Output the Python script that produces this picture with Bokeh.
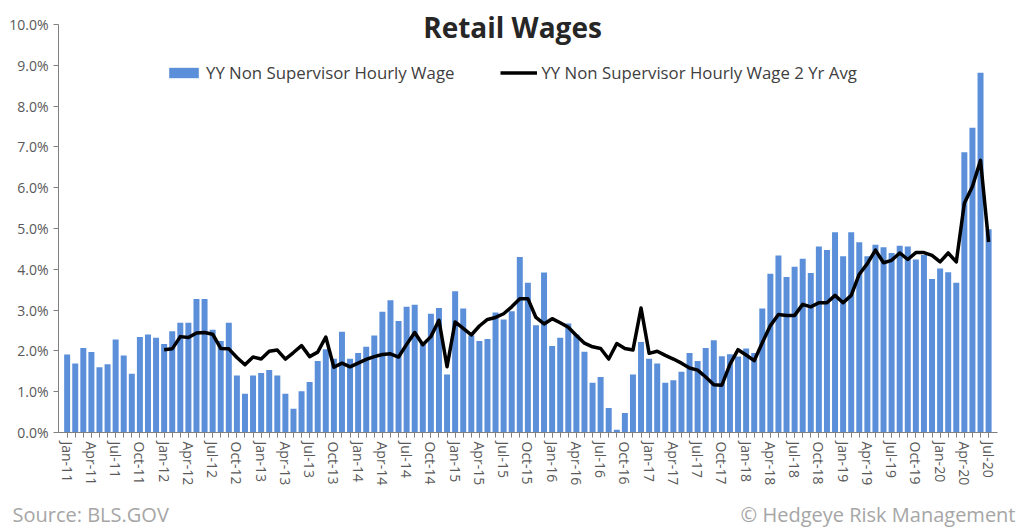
from bokeh.plotting import figure
from bokeh.layouts import column, row
from bokeh.models import (ColumnDataSource, FixedTicker, PrintfTickFormatter, Legend,
                          LegendItem, Label, Range1d)
from bokeh.embed import file_html
from bokeh.resources import INLINE

# YY Non Supervisor Hourly Wage (%), monthly Jan-11 .. Jul-20
wage_2011 = [1.91, 1.69, 2.07, 1.97, 1.60, 1.67, 2.28, 1.89, 1.44, 2.34, 2.40, 2.32]
wage_2012 = [2.17, 2.48, 2.69, 2.69, 3.27, 3.27, 2.52, 2.24, 2.69, 1.40, 0.95, 1.40]
wage_2013 = [1.46, 1.53, 1.40, 0.95, 0.58, 1.01, 1.24, 1.75, 2.04, 1.81, 2.47, 1.81]
wage_2014 = [1.95, 2.10, 2.38, 2.96, 3.24, 2.73, 3.08, 3.13, 2.18, 2.91, 3.05, 1.42]
wage_2015 = [3.46, 3.04, 2.38, 2.24, 2.29, 2.94, 2.77, 2.97, 4.30, 3.67, 2.63, 3.92]
wage_2016 = [2.12, 2.32, 2.67, 2.40, 1.98, 1.22, 1.36, 0.60, 0.07, 0.48, 1.42, 2.22]
wage_2017 = [1.81, 1.69, 1.22, 1.28, 1.49, 1.95, 1.75, 2.07, 2.26, 1.87, 1.92, 1.86]
wage_2018 = [2.06, 1.95, 3.04, 3.89, 4.34, 3.81, 4.06, 4.26, 3.91, 4.56, 4.47, 4.91]
wage_2019 = [4.32, 4.91, 4.66, 4.32, 4.60, 4.54, 4.40, 4.58, 4.56, 4.24, 4.35, 3.76]
wage_2020 = [4.02, 3.93, 3.67, 6.87, 7.47, 8.82, 4.98]

# YY Non Supervisor Hourly Wage 2 Yr Avg (%), monthly Jan-12 .. Jul-20
avg_2012 = [2.03, 2.05, 2.35, 2.33, 2.44, 2.45, 2.41, 2.06, 2.05, 1.84, 1.66, 1.85]
avg_2013 = [1.80, 1.99, 2.02, 1.80, 1.96, 2.13, 1.86, 1.97, 2.34, 1.60, 1.70, 1.61]
avg_2014 = [1.70, 1.79, 1.86, 1.91, 1.93, 1.85, 2.16, 2.45, 2.15, 2.35, 2.75, 1.61]
avg_2015 = [2.71, 2.55, 2.39, 2.61, 2.77, 2.82, 2.91, 3.08, 3.28, 3.28, 2.82, 2.66]
avg_2016 = [2.79, 2.69, 2.58, 2.38, 2.19, 2.10, 2.06, 1.80, 2.18, 2.06, 2.02, 3.05]
avg_2017 = [1.94, 1.99, 1.89, 1.80, 1.70, 1.58, 1.53, 1.36, 1.17, 1.16, 1.67, 2.03]
avg_2018 = [1.90, 1.76, 2.20, 2.62, 2.89, 2.87, 2.87, 3.14, 3.08, 3.18, 3.18, 3.36]
avg_2019 = [3.18, 3.36, 3.88, 4.14, 4.47, 4.16, 4.22, 4.40, 4.24, 4.41, 4.41, 4.34]
avg_2020 = [4.18, 4.40, 4.18, 5.62, 6.03, 6.67, 4.67]

tick_labels = ["Jan-11", "Apr-11", "Jul-11", "Oct-11", "Jan-12", "Apr-12", "Jul-12", "Oct-12",
               "Jan-13", "Apr-13", "Jul-13", "Oct-13", "Jan-14", "Apr-14", "Jul-14", "Oct-14",
               "Jan-15", "Apr-15", "Jul-15", "Oct-15", "Jan-16", "Apr-16", "Jul-16", "Oct-16",
               "Jan-17", "Apr-17", "Jul-17", "Oct-17", "Jan-18", "Apr-18", "Jul-18", "Oct-18",
               "Jan-19", "Apr-19", "Jul-19", "Oct-19", "Jan-20", "Apr-20", "Jul-20"]
y_ticks = [0, 1, 2, 3, 4, 5, 6, 7, 8, 9, 10]

wage = (wage_2011 + wage_2012 + wage_2013 + wage_2014 + wage_2015 + wage_2016 +
        wage_2017 + wage_2018 + wage_2019 + wage_2020)
avg = (avg_2012 + avg_2013 + avg_2014 + avg_2015 + avg_2016 + avg_2017 + avg_2018 +
       avg_2019 + avg_2020)

idx = list(range(len(wage)))
avg_idx = list(range(12, 12 + len(avg)))

bar_src = ColumnDataSource(dict(x=idx, top=wage))
line_src = ColumnDataSource(dict(x=avg_idx, y=avg))

FONT = "Open Sans"

p = figure(width=1016, height=496, output_backend="svg", toolbar_location=None,
           x_range=Range1d(-1.07, 115.1), y_range=Range1d(0, 10.49),
           min_border_left=58, min_border_right=19, min_border_top=4, min_border_bottom=64)
p.outline_line_color = None
p.xgrid.visible = False
p.ygrid.visible = False
p.background_fill_color = "white"

bars = p.vbar(x="x", top="top", width=0.74, source=bar_src, fill_color="#5B8FDA",
              line_color=None)
line = p.line(x="x", y="y", source=line_src, line_color="black", line_width=3.5,
              line_join="round")

# Y axis
p.yaxis.ticker = FixedTicker(ticks=y_ticks)
p.yaxis.bounds = (0, 10)
p.yaxis.formatter = PrintfTickFormatter(format="%.1f%%")
p.yaxis.axis_line_color = "#808080"
p.yaxis.major_tick_line_color = "#808080"
p.yaxis.major_tick_out = 5
p.yaxis.major_tick_in = 0
p.yaxis.minor_tick_line_color = None
p.yaxis.major_label_text_font = FONT
p.yaxis.major_label_text_font_size = "14px"
p.yaxis.major_label_text_color = "#595959"
p.yaxis.major_label_standoff = 5

# X axis
p.xaxis.ticker = FixedTicker(ticks=list(range(0, len(wage), 3)), minor_ticks=idx)
p.xaxis.major_label_overrides = {i * 3: lab for i, lab in enumerate(tick_labels)}
p.xaxis.major_label_orientation = "vertical"
p.xaxis.axis_line_color = "#808080"
p.xaxis.major_tick_line_color = "#808080"
p.xaxis.minor_tick_line_color = "#808080"
p.xaxis.major_tick_out = 5
p.xaxis.major_tick_in = 0
p.xaxis.minor_tick_out = 5
p.xaxis.minor_tick_in = 0
p.xaxis.major_label_text_font = FONT
p.xaxis.major_label_text_font_size = "14px"
p.xaxis.major_label_text_color = "#595959"
p.xaxis.major_label_standoff = 4

legend = Legend(items=[LegendItem(label="YY Non Supervisor Hourly Wage", renderers=[bars]),
                       LegendItem(label="YY Non Supervisor Hourly Wage 2 Yr Avg", renderers=[line])],
                location=(107, 348), orientation="horizontal", glyph_width=37, glyph_height=13,
                spacing=46, label_standoff=4, border_line_color=None, background_fill_alpha=0,
                padding=0, margin=0, label_text_font=FONT, label_text_font_size="16.8px",
                label_text_color="#404040")
p.add_layout(legend)

title = Label(x=55.1, y=9.93, text="Retail Wages", text_align="center", text_baseline="middle",
              text_font=FONT, text_font_size="28px", text_font_style="bold",
              text_color="#262626")
p.add_layout(title)

# footer strip with source and copyright notes
foot = figure(width=1016, height=32, output_backend="svg", toolbar_location=None,
              x_range=Range1d(0, 1016), y_range=Range1d(0, 32),
              min_border=0, x_axis_location=None, y_axis_location=None)
foot.outline_line_color = None
foot.xgrid.visible = False
foot.ygrid.visible = False
foot.add_layout(Label(x=12, y=14, text="Source: BLS.GOV", text_align="left",
                      text_baseline="middle", text_font=FONT, text_font_size="20px",
                      text_color="#a6a6a6"))
foot.add_layout(Label(x=1015, y=14, text="\u00a9 Hedgeye Risk Management", text_align="right",
                      text_baseline="middle", text_font=FONT, text_font_size="20px",
                      text_color="#a6a6a6"))

page = column(p, row(foot), spacing=0)
open("out.html", "w").write(file_html(page, INLINE))
